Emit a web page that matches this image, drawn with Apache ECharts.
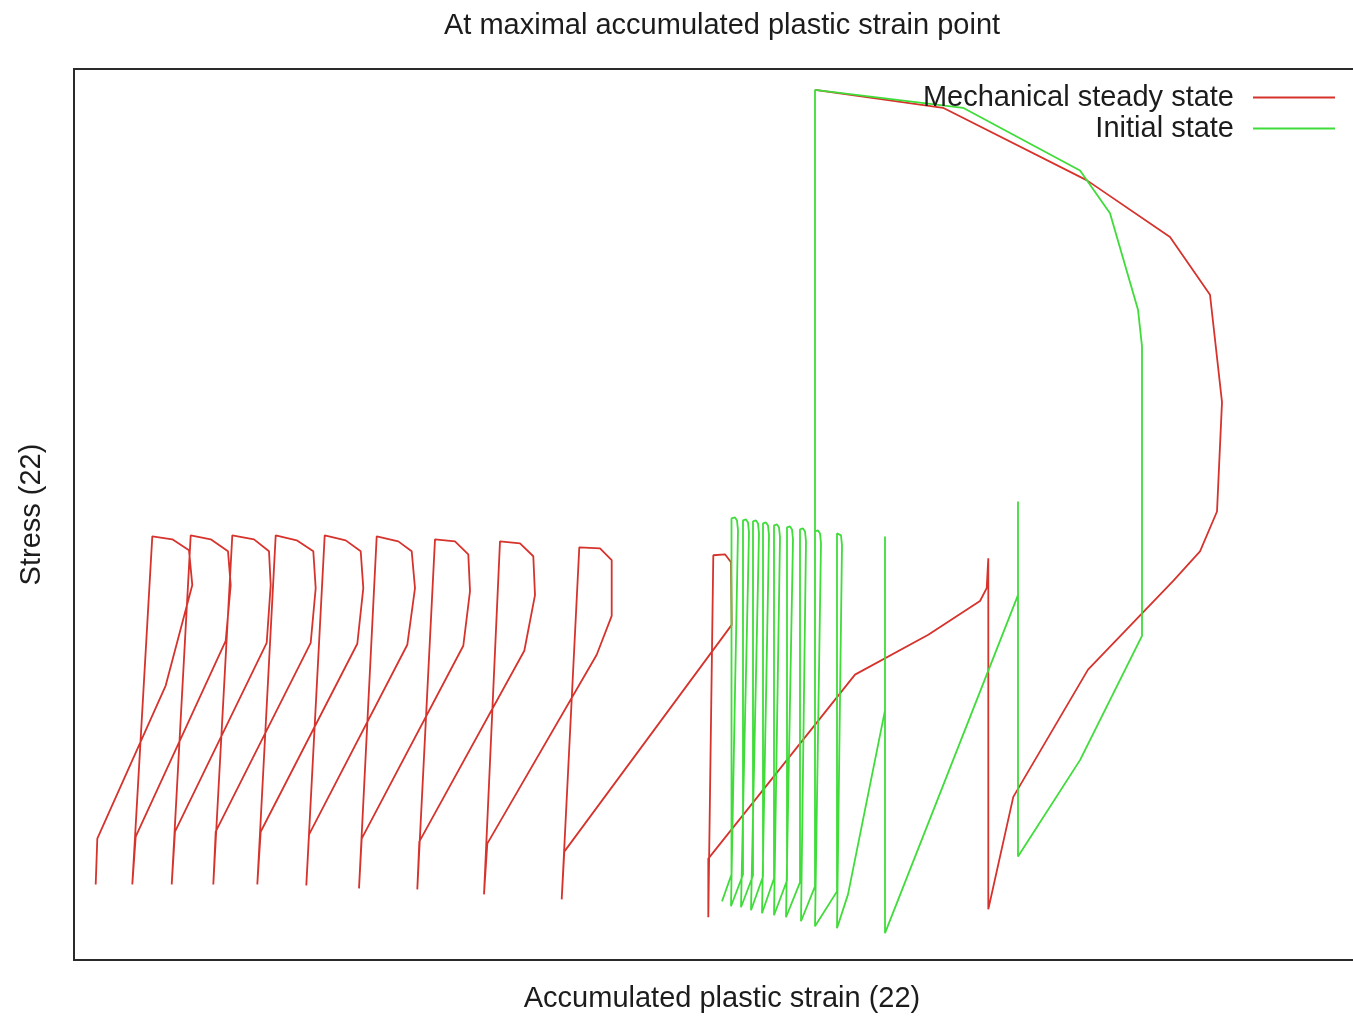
<!DOCTYPE html>
<html>
<head>
<meta charset="utf-8">
<title>At maximal accumulated plastic strain point</title>
<script src="https://cdn.jsdelivr.net/npm/echarts@6.0.0/dist/echarts.min.js"></script>
<style>
  html, body { margin: 0; padding: 0; background: #fff; overflow: hidden; }
  /* 右边框在原图中被裁掉，所以画布比窗口宽一点 */
  .strain-chart { width: 1370px; height: 1018px; }
</style>
</head>
<body>
<div class="strain-chart"></div>
<script>
// 曲线数据 [accumulated plastic strain, stress]，单位为图上读出的相对刻度
let steadyState = [
  [21.7, 76], [23.3, 122], [91.7, 276], [118.3, 377], [115, 412], [98.3, 423], [78.3, 426],
  [58.3, 76], [61.7, 124], [151.7, 321], [156.7, 377], [154, 411], [136.7, 423], [116.7, 427],
  [97.7, 76], [101, 129], [192.7, 319], [196.7, 377], [195, 411], [180, 423], [158.3, 427],
  [139.3, 76], [141.7, 129], [236.7, 319], [241.7, 374], [239.3, 411], [222.7, 422], [201.7, 427],
  [183.3, 76], [186.7, 129], [283.3, 318], [289.3, 374], [286.7, 411], [271.7, 422], [250.7, 427],
  [232.3, 75], [235, 126], [333.3, 317], [341, 374], [337.7, 411], [324.3, 421], [302.7, 426],
  [285, 72], [287.7, 122], [389.3, 316], [396, 371], [394.3, 408], [381, 421], [361, 423],
  [343.3, 71], [345.3, 119], [450.3, 311], [461, 367], [459.3, 406], [446, 419], [426, 421],
  [410, 66], [413.3, 117], [522.7, 307], [537.7, 346], [537.7, 402], [526, 414], [505.3, 415],
  [487.7, 61], [490.3, 109], [657.7, 337], [657, 400], [651, 408], [639.3, 407],
  [634.3, 43], [634.3, 102], [781, 287], [854.3, 327], [906, 361], [912.7, 374], [914.3, 404],
  [914.3, 51], [939.3, 164], [1014, 292], [1099, 381], [1126, 411], [1143, 451], [1148, 561],
  [1136, 669], [1096, 727], [1013, 784], [869, 857], [741, 875]
];

let initialState = [
  [648, 59],
  [657.5, 86], [657.5, 444], [661, 445], [663, 442], [664, 432], [657, 54],
  [669, 86], [669, 442], [672, 443], [674, 440], [675, 430], [667, 53],
  [679, 85], [679, 441], [682, 442], [684, 439], [685, 429], [677, 50],
  [689, 84], [689, 439], [692, 440], [694, 437], [695, 427], [688, 47],
  [700, 82], [700, 437], [703, 438], [705, 435], [706, 425], [700, 45],
  [713, 80], [713, 435], [716, 436], [718, 433], [719, 423], [712, 43],
  [726, 78], [726, 433], [729, 434], [731, 431], [732, 421], [727, 39],
  [741, 74], [741, 431], [744, 432], [746, 429], [747, 419], [741, 34],
  [763, 69], [763, 429], [765, 430], [767, 427], [768, 417], [763, 32],
  [774, 66], [811, 251], [811, 426], [811, 27],
  [944, 367], [944, 461], [944, 104],
  [1006, 201], [1068, 326], [1068, 617], [1064, 654], [1036, 751], [1006, 794],
  [889, 857], [741, 875], [741, 399]
];

let seriesNames = ['Mechanical steady state', 'Initial state'];
let seriesColors = ['#d6332d', '#3fdc3a'];

(function () {

  // 1. 实例化对象
  let myChart = echarts.init(document.querySelector(".strain-chart"));

  let font = "'Liberation Sans', Arial, sans-serif";
  let textColor = '#1c1c1c';

  // 图例：每项单独一个，保证线段右对齐
  let legendItem = function (name, top) {
    return {
      data: [name],
      right: 30,
      top: top,
      align: 'right',
      icon: 'rect',
      itemWidth: 82,
      itemHeight: 2,
      textStyle: { color: textColor, fontFamily: font, fontSize: 29, padding: [0, 14, 0, 0] }
    };
  };

  // 2. 指定配置和数据
  let option = {
    animation: false,
    color: seriesColors,
    title: {
      text: 'At maximal accumulated plastic strain point',
      left: 439,
      top: 6,
      textStyle: {
        color: textColor,
        fontFamily: font,
        fontSize: 29,
        fontWeight: 'normal'
      }
    },
    legend: [
      legendItem(seriesNames[0], 78),
      legendItem(seriesNames[1], 109)
    ],
    grid: {
      show: true,
      left: 74,
      top: 69,
      right: 0,
      bottom: 53,
      borderColor: '#2a2a2a',
      borderWidth: 2
    },
    xAxis: {
      type: 'value',
      min: 0,
      max: 1296,
      name: 'Accumulated plastic strain (22)',
      nameLocation: 'middle',
      nameGap: 24,
      nameTextStyle: { color: textColor, fontFamily: font, fontSize: 29 },
      axisLine: { show: false },
      axisTick: { show: false },
      axisLabel: { show: false },
      splitLine: { show: false }
    },
    yAxis: {
      type: 'value',
      min: 0,
      max: 896,
      name: 'Stress (22)',
      nameLocation: 'middle',
      nameGap: 28,
      nameTextStyle: { color: textColor, fontFamily: font, fontSize: 29 },
      axisLine: { show: false },
      axisTick: { show: false },
      axisLabel: { show: false },
      splitLine: { show: false }
    },
    series: [
      {
        name: seriesNames[0],
        type: 'line',
        data: steadyState,
        showSymbol: false,
        lineStyle: { width: 1.8 }
      },
      {
        name: seriesNames[1],
        type: 'line',
        data: initialState,
        showSymbol: false,
        lineStyle: { width: 1.8 }
      }
    ]
  };

  // 3. 把配置给实例对象
  myChart.setOption(option);
  // 4. 让图表跟随屏幕自动的去适应
  window.addEventListener("resize", function () {
    myChart.resize();
  });

})();
</script>
</body>
</html>
